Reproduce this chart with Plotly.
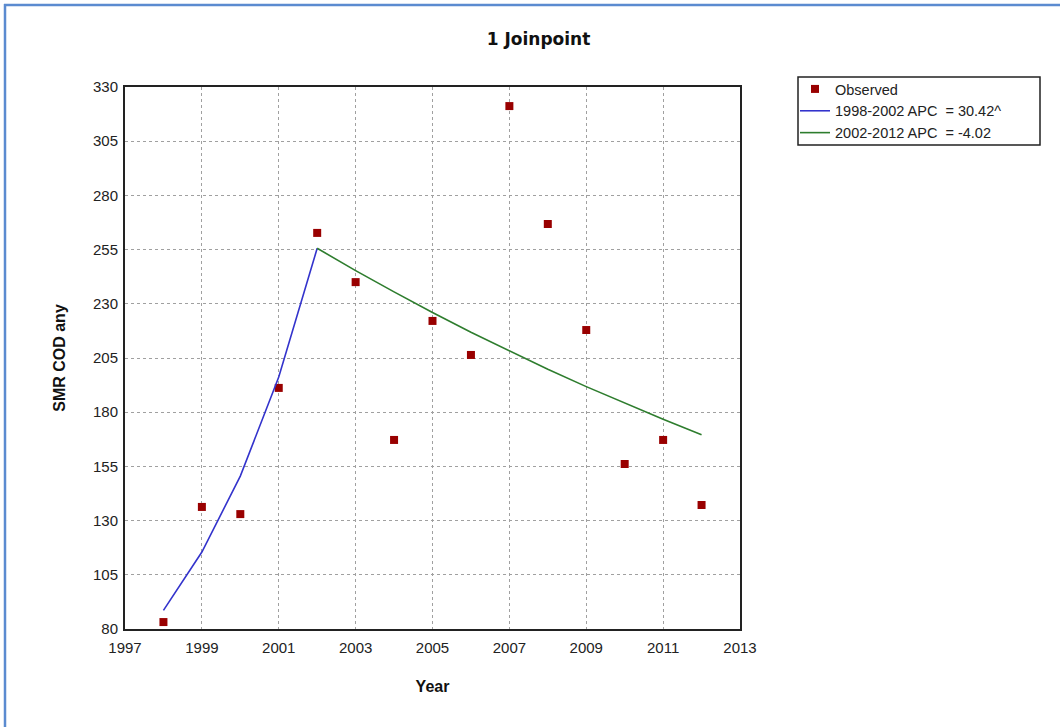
import plotly.graph_objects as go

years = [1998, 1999, 2000, 2001, 2002, 2003, 2004, 2005, 2006, 2007, 2008, 2009, 2010, 2011, 2012]
observed = [83.2, 136.3, 133.0, 191.2, 262.7, 240.0, 167.2, 222.1, 206.4, 321.2, 266.8, 217.9, 156.1, 167.2, 137.2]

seg1_years = [1998, 1999, 2000, 2001, 2002]
seg1_values = [88.6, 115.5, 150.5, 196.2, 255.6]

seg2_years = [2002, 2003, 2004, 2005, 2006, 2007, 2008, 2009, 2010, 2011, 2012]
seg2_values = [255.6, 245.3, 235.5, 226.0, 216.9, 208.2, 199.8, 191.8, 184.1, 176.7, 169.6]

x_ticks = [1997, 1999, 2001, 2003, 2005, 2007, 2009, 2011, 2013]
y_ticks = [80, 105, 130, 155, 180, 205, 230, 255, 280, 305, 330]

W, H = 1060, 727
L, R, T, B = 125, 740, 87, 629
PW, PH = R - L, B - T


def px(x):
    return (x - L) / PW


def py(y):
    return (B - y) / PH


fig = go.Figure()
fig.add_trace(go.Scatter(x=years, y=observed, mode="markers", name="Observed",
                         marker=dict(symbol="square", size=8, color="#990000")))
fig.add_trace(go.Scatter(x=seg1_years, y=seg1_values, mode="lines", name="1998-2002 APC  = 30.42^",
                         line=dict(color="#3333cc", width=1.6)))
fig.add_trace(go.Scatter(x=seg2_years, y=seg2_values, mode="lines", name="2002-2012 APC  = -4.02",
                         line=dict(color="#2e7d2e", width=1.6)))

axis_common = dict(showline=True, linecolor="#222", linewidth=2, mirror=True,
                   showgrid=True, gridcolor="#a0a0a0", griddash="dot", gridwidth=1,
                   zeroline=False, ticks="",
                   tickfont=dict(family="Liberation Sans, Arial", size=15, color="#222"))

fig.update_xaxes(range=[1997, 2013], tickvals=x_ticks, ticklabelstandoff=4, **axis_common,
                 title=dict(text="<b>Year</b>", font=dict(family="Liberation Sans, Arial", size=16, color="#111"),
                            standoff=26))
fig.update_yaxes(range=[80, 330], tickvals=y_ticks, ticklabelstandoff=2, **axis_common,
                 title=dict(text="<b>SMR COD any</b>", font=dict(family="Liberation Sans, Arial", size=16, color="#111"),
                            standoff=23))

fig.update_layout(
    width=W, height=H,
    margin=dict(l=L, r=W - R, t=T, b=H - B),
    paper_bgcolor="white", plot_bgcolor="white",
    title=dict(text="<b>1 Joinpoint</b>", x=538.5 / W, xref="container", xanchor="center",
               y=1 - 39 / H, yref="container", yanchor="middle",
               font=dict(family="DejaVu Sans, Verdana", size=17, color="#111")),
    showlegend=True,
    legend=dict(x=px(795), y=py(73), xanchor="left", yanchor="top",
                borderwidth=0, bgcolor="rgba(0,0,0,0)",
                font=dict(family="Liberation Sans, Arial", size=14.5, color="#222"),
                tracegroupgap=0, itemwidth=30),
)

# legend frame
fig.add_shape(type="rect", xref="paper", yref="paper",
              x0=px(798), x1=px(1040), y0=py(145), y1=py(77),
              line=dict(color="#222", width=1.5), fillcolor="rgba(0,0,0,0)", layer="below")

# outer blue frame (top and left edges visible in the reference)
fig.add_shape(type="line", xref="paper", yref="paper",
              x0=px(4), x1=px(W + 5), y0=py(5), y1=py(5),
              line=dict(color="#5b8bd0", width=2.5))
fig.add_shape(type="line", xref="paper", yref="paper",
              x0=px(5), x1=px(5), y0=py(4), y1=py(H + 5),
              line=dict(color="#5b8bd0", width=2.5))

fig.write_html("out.html", config={"displayModeBar": False},
               post_script="document.body.style.margin='0';")
